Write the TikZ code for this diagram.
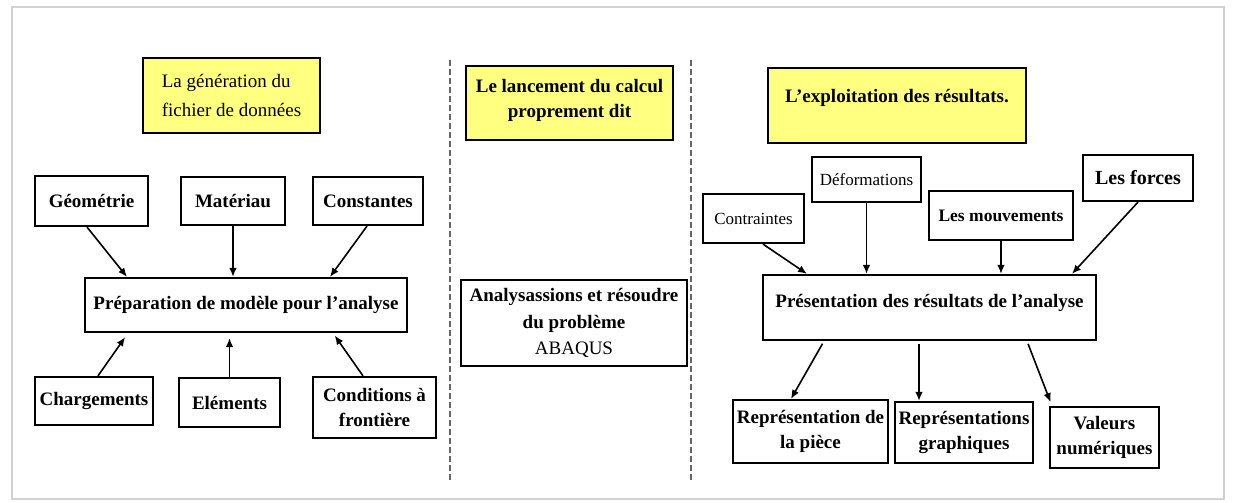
\documentclass[tikz,border=0pt]{standalone}
\usepackage{fontspec}
\setmainfont{Liberation Serif}
\usetikzlibrary{arrows.meta}
\definecolor{hl}{RGB}{255,255,128}
\begin{document}
\begin{tikzpicture}[x=1pt,y=-1pt,
  box/.style={draw, line width=2.2pt, inner sep=0pt, align=center, font=\fontsize{19}{25}\selectfont\bfseries},
  ybox/.style={box, fill=hl},
  small/.style={font=\fontsize{17}{20}\selectfont},
  arr/.style={line width=1.6pt, -{Latex[length=9pt,width=7.5pt]}},
  sep/.style={line width=1.1pt, dash pattern=on 6pt off 3pt, gray!80!black}
]
\useasboundingbox (0,0) rectangle (1234,503);
\fill[white] (0,0) rectangle (1234,503);
\draw[gray!35, line width=1.5pt] (12,7) rectangle (1224,499);

% left column
\node[ybox, minimum width=177pt, minimum height=75pt, align=left, font=\fontsize{19}{29}\selectfont] (gen) at (231.5,95.5) {La génération du\\fichier de données};
\node[box, minimum width=113pt, minimum height=50pt] (geo) at (91.5,201) {Géométrie};
\node[box, minimum width=104pt, minimum height=48pt] (mat) at (233,201) {Matériau};
\node[box, minimum width=110pt, minimum height=48pt] (con) at (368,201) {Constantes};
\node[box, minimum width=322pt, minimum height=54pt] (prep) at (246,305) {Préparation de modèle pour l’analyse};
\node[box, minimum width=118pt, minimum height=48pt] (charg) at (94,401) {Chargements};
\node[box, minimum width=101pt, minimum height=49pt] (elem) at (229.5,402.5) {Eléments};
\node[box, minimum width=123pt, minimum height=61pt] (cond) at (374.5,407.5) {Conditions à\\frontière};

\draw[arr] ([xshift=-4.5pt]geo.south) -- ([xshift=-119pt]prep.north);
\draw[arr] (mat.south) -- (mat.south |- prep.north);
\draw[arr] ([xshift=-1pt]con.south) -- ([xshift=84pt]prep.north);
\draw[arr, shorten >=5pt] ([xshift=4pt]charg.north) -- ([xshift=-118pt]prep.south);
\draw[arr, shorten >=5pt] (elem.north) -- (elem.north |- prep.south);
\draw[arr, shorten >=3pt] ([xshift=-11.5pt]cond.north) -- ([xshift=87pt]prep.south);

% separators
\coordinate (s1t) at (450,60); \coordinate (s1b) at (450,480);
\coordinate (s2t) at (691,60); \coordinate (s2b) at (691,480);
\draw[sep] (s1t) -- (s1b);
\draw[sep] (s2t) -- (s2b);

% middle column
\node[ybox, minimum width=207pt, minimum height=74pt, text depth=10pt] (lanc) at (569.5,103) {Le lancement du calcul\\proprement dit};
\node[box, minimum width=226pt, minimum height=86pt, font=\fontsize{19}{26.5}\selectfont\bfseries] (ana) at (574,323) {Analysassions et résoudre\\du problème\\{\mdseries ABAQUS}};

% right column
\node[ybox, minimum width=258pt, minimum height=75pt, text depth=19pt] (expl) at (897,105.5) {L’exploitation des résultats.};
\node[box, small, minimum width=109pt, minimum height=45pt] (def) at (866.5,179.5) {Déformations};
\node[box, small, minimum width=101pt, minimum height=49pt] (contr) at (753.5,218.5) {Contraintes};
\node[box, minimum width=144pt, minimum height=49pt, font=\fontsize{17.5}{20}\selectfont\bfseries] (mouv) at (1001,215.5) {Les mouvements};
\node[box, minimum width=110pt, minimum height=46pt, font=\fontsize{20}{22}\selectfont\bfseries] (forces) at (1138,178) {Les forces};
\node[box, minimum width=333pt, minimum height=65pt, text depth=13pt] (pres) at (929.5,307.5) {Présentation des résultats de l’analyse};
\node[box, minimum width=155pt, minimum height=63pt] (rep) at (810.5,431.5) {Représentation de\\la pièce};
\node[box, minimum width=138pt, minimum height=61pt] (graph) at (964,432.5) {Représentations\\graphiques};
\node[box, minimum width=109pt, minimum height=61pt] (val) at (1104.5,437.5) {Valeurs\\numériques};

\draw[arr] ([xshift=9.5pt]contr.south) -- ([xshift=-122.5pt]pres.north);
\draw[arr] (def.south) -- (def.south |- pres.north);
\draw[arr] (mouv.south) -- (mouv.south |- pres.north);
\draw[arr] (forces.south) -- ([xshift=142.5pt]pres.north);
\draw[arr, shorten <=3pt] ([xshift=-105.5pt]pres.south) -- ([xshift=-19.5pt]rep.north);
\draw[arr, shorten <=3pt] ([xshift=-45pt]graph.north |- pres.south) -- ([xshift=-45pt]graph.north);
\draw[arr, shorten <=3pt, shorten >=4pt] ([xshift=97.5pt]pres.south) -- ([xshift=-52.5pt]val.north);
\end{tikzpicture}
\end{document}
